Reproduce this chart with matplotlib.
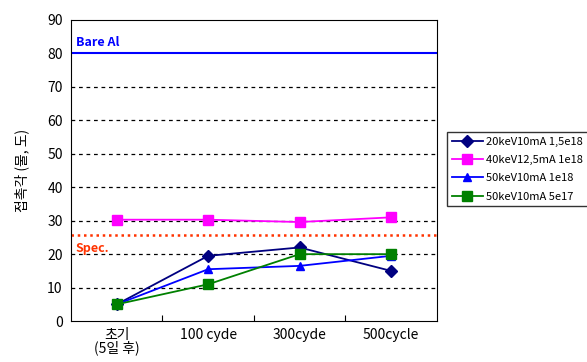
import matplotlib
matplotlib.use('Agg')
import matplotlib.pyplot as plt

plt.rcParams['font.family'] = ['Noto Sans CJK KR', 'DejaVu Sans']

# data
categories = ['초기\n(5일 후)', '100 cyde', '300cyde', '500cycle']
s20kev = [5, 19.5, 22, 15]
s40kev = [30.3, 30.3, 29.6, 31]
s50kev_1e18 = [5, 15.5, 16.5, 19.5]
s50kev_5e17 = [5, 11, 20, 20]
series_labels = ['20keV10mA 1,5e18', '40keV12,5mA 1e18', '50keV10mA 1e18', '50keV10mA 5e17']
bare_al = 80
spec = 25.8

fig = plt.figure(figsize=(5.87, 3.62), dpi=100)
ax = fig.add_axes([0.121, 0.113, 0.623, 0.832])

x = range(len(categories))
ax.plot(x, s20kev, color='#000080', marker='D', markersize=6, lw=1.3, label=series_labels[0])
ax.plot(x, s40kev, color='#ff00ff', marker='s', markersize=7, lw=1.3, label=series_labels[1])
ax.plot(x, s50kev_1e18, color='#0000ff', marker='^', markersize=6, lw=1.3, label=series_labels[2])
ax.plot(x, s50kev_5e17, color='#008000', marker='s', markersize=7, lw=1.3, label=series_labels[3])

# reference lines
ax.axhline(bare_al, color='#0000ff', lw=1.5)
ax.text(-0.45, bare_al + 1.2, 'Bare Al', color='#0000ff', fontsize=9, fontweight='bold', va='bottom')
ax.axhline(spec, color='#ff3300', lw=1.8, ls=(0, (1, 1.5)))
ax.text(-0.45, spec - 2.3, 'Spec.', color='#ff3300', fontsize=9, fontweight='bold', va='top')

ax.set_xlim(-0.5, 3.5)
ax.set_ylim(0, 90)
ax.set_yticks(range(0, 91, 10))
for y in range(10, 80, 10):
    ax.axhline(y, color='black', lw=0.9, ls=(0, (3, 3)), zorder=0)

ax.set_xticks([0.5, 1.5, 2.5])
ax.set_xticklabels([])
ax.tick_params(axis='x', direction='in', length=4)
ax.set_xticks(list(x), minor=True)
ax.set_xticklabels(categories, minor=True, fontsize=10, linespacing=0.85)
ax.tick_params(axis='x', which='minor', length=0, pad=5)
ax.tick_params(axis='y', labelsize=10, direction='out', length=0, pad=6)
ax.set_ylabel('접촉각 (물, 도)', fontsize=10)
ax.yaxis.set_label_coords(-0.115, 0.5)

fig.legend(loc='upper left', bbox_to_anchor=(0.762, 0.635), fontsize=8,
           frameon=True, fancybox=False, edgecolor='black', handlelength=2.8,
           borderaxespad=0, labelspacing=0.75, handletextpad=0.3, borderpad=0.4)

fig.savefig('out.png', dpi=100)
